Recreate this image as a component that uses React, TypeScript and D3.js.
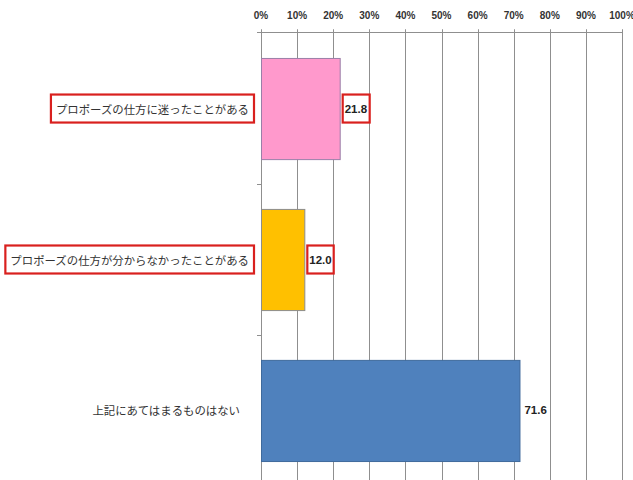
import { useEffect, useRef } from 'react';
import * as d3 from 'd3';

const categories = [
  'プロポーズの仕方に迷ったことがある',
  'プロポーズの仕方が分からなかったことがある',
  '上記にあてはまるものはない',
];
const values = [21.8, 12.0, 71.6];
const barColors = ['#FF99CC', '#FFC000', '#4F81BD'];
const barStrokes = ['#9A7FA8', '#8C8C8C', '#3F6A9C'];
const highlighted = [true, true, false];
const xTicks = [0, 10, 20, 30, 40, 50, 60, 70, 80, 90, 100];

const W = 633;
const H = 480;

export default function App() {
  const svgRef = useRef<SVGSVGElement>(null);

  useEffect(() => {
    const svg = d3.select(svgRef.current);
    svg.selectAll('*').remove();

    const x = d3.scaleLinear().domain([0, 100]).range([261, 622]);
    const y = d3
      .scaleBand()
      .domain(categories)
      .range([32, 487])
      .paddingInner(0.33)
      .paddingOuter(0.172);
    const axisY = 32.5;
    const step = y.step();

    // vertical gridlines
    svg.append('g')
      .selectAll('line')
      .data(xTicks)
      .join('line')
      .attr('x1', (d) => Math.round(x(d)) + 0.5)
      .attr('x2', (d) => Math.round(x(d)) + 0.5)
      .attr('y1', axisY - 3)
      .attr('y2', H)
      .attr('stroke', '#8f8f8f')
      .attr('stroke-width', 1);

    // top axis line
    svg.append('line')
      .attr('x1', 257)
      .attr('x2', x(100) + 0.5)
      .attr('y1', axisY)
      .attr('y2', axisY)
      .attr('stroke', '#8f8f8f');

    // tick crosses
    svg.append('g')
      .selectAll('line')
      .data(xTicks)
      .join('line')
      .attr('x1', (d) => Math.round(x(d)) + 0.5)
      .attr('x2', (d) => Math.round(x(d)) + 0.5)
      .attr('y1', axisY - 3)
      .attr('y2', axisY + 4)
      .attr('stroke', '#8f8f8f');

    // tick labels
    svg.append('g')
      .selectAll('text')
      .data(xTicks)
      .join('text')
      .attr('x', (d) => x(d))
      .attr('y', 15)
      .attr('text-anchor', 'middle')
      .attr('dominant-baseline', 'central')
      .attr('font-family', '"Liberation Sans", "DejaVu Sans", sans-serif')
      .attr('font-weight', 'bold')
      .attr('font-size', '10px')
      .attr('fill', '#333')
      .text((d) => `${d}%`);

    // category ticks at band boundaries
    svg.append('g')
      .selectAll('line')
      .data(categories.slice(1))
      .join('line')
      .attr('x1', 257)
      .attr('x2', 261)
      .attr('y1', (d) => Math.round((y(d) ?? 0) - (step * 0.33) / 2) + 0.5)
      .attr('y2', (d) => Math.round((y(d) ?? 0) - (step * 0.33) / 2) + 0.5)
      .attr('stroke', '#8f8f8f');

    // bars
    svg.append('g')
      .selectAll('rect')
      .data(values)
      .join('rect')
      .attr('x', x(0) + 0.5)
      .attr('y', (_, i) => (y(categories[i]) ?? 0) + 0.5)
      .attr('width', (d) => x(d) - x(0))
      .attr('height', y.bandwidth())
      .attr('fill', (_, i) => barColors[i])
      .attr('stroke', (_, i) => barStrokes[i])
      .attr('stroke-width', 1);

    // category labels
    const labels = svg.append('g')
      .selectAll('text')
      .data(categories)
      .join('text')
      .attr('x', (_, i) => (highlighted[i] ? 249 : 240))
      .attr('y', (d) => (y(d) ?? 0) + y.bandwidth() / 2)
      .attr('text-anchor', 'end')
      .attr('dominant-baseline', 'central')
      .attr('font-family', '"Noto Sans CJK JP", sans-serif')
      .attr('font-size', '11.4px')
      .attr('fill', '#333')
      .text((d) => d);

    // value labels
    const valueLabels = svg.append('g')
      .selectAll('text')
      .data(values)
      .join('text')
      .attr('x', (d) => x(d) + 5)
      .attr('y', (_, i) => (y(categories[i]) ?? 0) + y.bandwidth() / 2)
      .attr('dominant-baseline', 'central')
      .attr('font-family', '"Liberation Sans", "DejaVu Sans", sans-serif')
      .attr('font-weight', 'bold')
      .attr('font-size', '11.5px')
      .attr('fill', '#222')
      .text((d) => d.toFixed(1));

    // red highlight boxes
    const boxes = svg.append('g');
    const drawBox = (node: SVGTextElement, padX: number) => {
      const b = node.getBBox();
      const cy = b.y + b.height / 2;
      boxes.append('rect')
        .attr('x', b.x - padX)
        .attr('y', cy - 14)
        .attr('width', b.width + padX * 2)
        .attr('height', 28)
        .attr('fill', 'none')
        .attr('stroke', '#D9201E')
        .attr('stroke-width', 2.2);
    };
    labels.each(function (_, i) {
      if (highlighted[i]) drawBox(this as SVGTextElement, 5);
    });
    valueLabels.each(function (_, i) {
      if (highlighted[i]) drawBox(this as SVGTextElement, 2);
    });
  }, []);

  return (
    <svg
      ref={svgRef}
      width={W}
      height={H}
      style={{ position: 'absolute', left: 0, top: 0, background: '#fff' }}
    />
  );
}
